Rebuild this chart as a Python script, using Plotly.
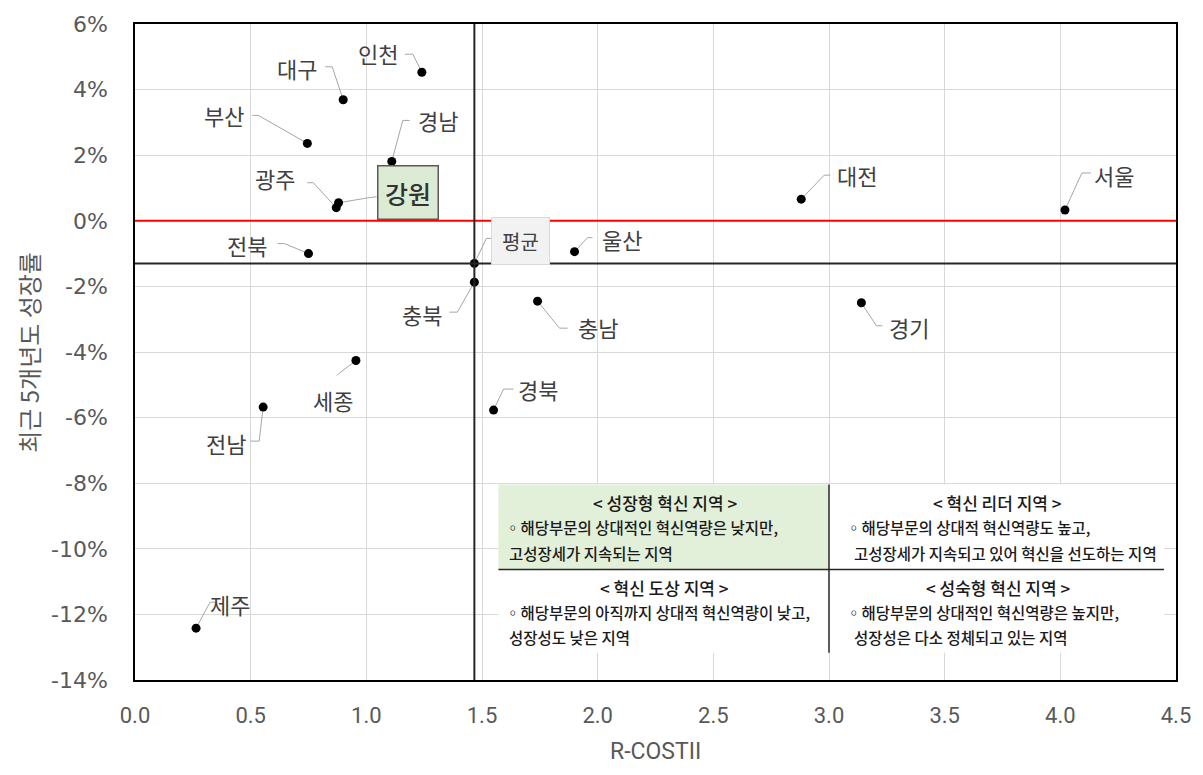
import plotly.graph_objects as go

# Regional innovation capacity (R-COSTII) vs. recent 5-year growth rate (%)
regions = ["서울", "대전", "경기", "울산", "충남", "충북", "경북", "인천", "대구",
           "경남", "부산", "광주", "강원", "전북", "세종", "전남", "제주"]
r_cost = [4.02, 2.88, 3.14, 1.90, 1.74, 1.467, 1.55, 1.24, 0.90,
          1.11, 0.745, 0.87, 0.88, 0.75, 0.955, 0.554, 0.264]
growth = [0.33, 0.66, -2.50, -0.94, -2.45, -1.87, -5.77, 4.53, 3.69,
          1.81, 2.36, 0.40, 0.55, -1.00, -4.26, -5.68, -12.42]

avg_label = "평균"
avg_x = 1.467
avg_y = -1.30

x_ticks = [0.0, 0.5, 1.0, 1.5, 2.0, 2.5, 3.0, 3.5, 4.0, 4.5]
y_ticks = [6, 4, 2, 0, -2, -4, -6, -8, -10, -12, -14]
y_tick_text = ["6%", "4%", "2%", "0%", "-2%", "-4%", "-6%", "-8%", "-10%", "-12%", "-14%"]

x_title = "R-COSTII"
y_title = "최근 5개년도 성장률"

quadrants = {
    "growth": ("< 성장형 혁신 지역 >",
               ["◦해당부문의 상대적인 혁신역량은 낮지만,", "고성장세가 지속되는 지역"]),
    "leader": ("< 혁신 리더 지역 >",
               ["◦해당부문의 상대적 혁신역량도 높고,", "고성장세가 지속되고 있어 혁신을 선도하는 지역"]),
    "catchup": ("< 혁신 도상 지역 >",
                ["◦해당부문의 아직까지 상대적 혁신역량이 낮고,", "성장성도 낮은 지역"]),
    "mature": ("< 성숙형 혁신 지역 >",
               ["◦해당부문의 상대적인 혁신역량은 높지만,", "성장성은 다소 정체되고 있는 지역"]),
}

# label placement: text offset and leader polyline (screen pixels, y down)
label_pos = {
    "서울": ((49, -35), [(26, -37), (17, -37)]),
    "대전": ((56, -24), [(29, -24), (23, -24)]),
    "경기": ((48, 24), [(21, 23), (15, 23)]),
    "울산": ((47, -13), [(18, -14), (13, -14)]),
    "충남": ((60, 26), [(30, 27), (22, 27)]),
    "충북": ((-52, 32), [(-25, 30), (-17, 30)]),
    "경북": ((44, -21), [(20, -21), (10, -21)]),
    "인천": ((-44, -19), [(-17, -18), (-9, -18)]),
    "대구": ((-46, -32), [(-18, -33), (-11, -33)]),
    "경남": ((46, -41), [(18, -41), (11, -41)]),
    "부산": ((-83, -28), [(-55, -28), (-49, -28)]),
    "광주": ((-61, -30), [(-29, -25), (-23, -25)]),
    "강원": ((69, -10), [(38, -6), (30, -5)]),
    "전북": ((-62, -9), [(-31, -10), (-24, -10)]),
    "세종": ((-23, 39), [(-19, 15), (-17, 13)]),
    "전남": ((-37, 36), [(-13, 34), (-4, 34)]),
    "제주": ((34, -24), [(21, -26), (14, -26)]),
}
avg_pos = ((46, -22), [(17, -25), (12, -25)])

KR = "Noto Sans CJK KR"
TEXT = "#404040"
AXIS_TEXT = "#595959"
LEADER = "#a6a6a6"

fig = go.Figure()

shapes = []


def leader(x, y, pts):
    path = "M {},{}".format(pts[0][0], -pts[0][1])
    for px, py in pts[1:]:
        path += " L {},{}".format(px, -py)
    path += " L 0,0"
    return dict(type="path", path=path, xsizemode="pixel", ysizemode="pixel",
                xanchor=x, yanchor=y, xref="x", yref="y",
                line=dict(color=LEADER, width=1), layer="between")


# reference lines: zero growth and the averages
shapes.append(dict(type="line", xref="paper", x0=0, x1=1, yref="y", y0=0, y1=0,
                   line=dict(color="#ff0000", width=2), layer="above"))
shapes.append(dict(type="line", xref="paper", x0=0, x1=1, yref="y", y0=avg_y, y1=avg_y,
                   line=dict(color="#262626", width=2), layer="above"))
shapes.append(dict(type="line", xref="x", x0=avg_x, x1=avg_x, yref="paper", y0=0, y1=1,
                   line=dict(color="#262626", width=2), layer="above"))

annotations = []
for name, x, y in zip(regions, r_cost, growth):
    (dx, dy), pts = label_pos[name]
    shapes.append(leader(x, y, pts))
    if name == "강원":
        annotations.append(dict(
            x=x, y=y, xref="x", yref="y", text=name, showarrow=False,
            xshift=dx, yshift=-dy, width=57, height=50,
            font=dict(family=KR, size=25, color="#333333", weight=500),
            bgcolor="#dcebd3", bordercolor="#595959", borderwidth=1.5,
        ))
    else:
        annotations.append(dict(
            x=x, y=y, xref="x", yref="y", text=name, showarrow=False,
            xshift=dx, yshift=-dy,
            font=dict(family=KR, size=22, color=TEXT),
        ))

(dx, dy), pts = avg_pos
shapes.append(leader(avg_x, avg_y, pts))
annotations.append(dict(
    x=avg_x, y=avg_y, xref="x", yref="y", text=avg_label, showarrow=False,
    xshift=dx, yshift=-dy, width=55, height=44,
    font=dict(family=KR, size=20, color=TEXT),
    bgcolor="#f2f2f2", bordercolor="#d9d9d9", borderwidth=1,
))

# quadrant legend table
tx0, tx1, txm = 1.571, 4.448, 3.0
ty0, ty1, tym = -8.04, -13.17, -10.63
shapes.append(dict(type="rect", xref="x", yref="y", x0=tx0, x1=tx1, y0=ty1, y1=ty0,
                   fillcolor="white", line=dict(width=0), layer="above"))
shapes.append(dict(type="rect", xref="x", yref="y", x0=tx0, x1=txm, y0=tym, y1=ty0,
                   fillcolor="#e2efd9", line=dict(width=0), layer="above"))
shapes.append(dict(type="line", xref="x", yref="y", x0=tx0, x1=tx1, y0=tym, y1=tym,
                   line=dict(color="#262626", width=1.5), layer="above"))
shapes.append(dict(type="line", xref="x", yref="y", x0=txm, x1=txm, y0=ty0, y1=ty1,
                   line=dict(color="#262626", width=1.5), layer="above"))

cells = [
    ("growth", 2.29, 1.592, 1.61, -8.58, -9.34, -10.12),
    ("leader", 3.73, 3.064, 3.098, -8.58, -9.34, -10.12),
    ("catchup", 2.29, 1.592, 1.61, -11.18, -11.93, -12.69),
    ("mature", 3.73, 3.064, 3.098, -11.18, -11.93, -12.69),
]
HFONT = dict(family=KR, size=17, color="#1a1a1a", weight=500)
BFONT = dict(family=KR, size=15.5, color="#1a1a1a", weight=500)
for key, hx, bx1, bx2, hy, by1, by2 in cells:
    head, body = quadrants[key]
    annotations.append(dict(x=hx, y=hy, xref="x", yref="y", text=head,
                            showarrow=False, font=HFONT))
    annotations.append(dict(x=bx1, y=by1, xref="x", yref="y", text=body[0],
                            showarrow=False, xanchor="left", font=BFONT))
    annotations.append(dict(x=bx2, y=by2, xref="x", yref="y", text=body[1],
                            showarrow=False, xanchor="left", font=BFONT))

# axis titles
annotations.append(dict(x=0.5, y=-0.109, xref="paper", yref="paper", text=x_title,
                        showarrow=False, yanchor="middle",
                        font=dict(family="Roboto", size=23, color=AXIS_TEXT)))
annotations.append(dict(x=-0.103, y=0.5, xref="paper", yref="paper", text=y_title,
                        showarrow=False, textangle=-90, xanchor="center",
                        font=dict(family=KR, size=24, color=AXIS_TEXT)))

fig.add_trace(go.Scatter(
    x=r_cost + [avg_x], y=growth + [avg_y], mode="markers",
    marker=dict(size=9, color="black"),
    hoverinfo="skip", showlegend=False,
))

fig.update_layout(
    width=1203, height=775,
    margin=dict(l=135, r=26, t=18, b=95),
    paper_bgcolor="white", plot_bgcolor="white",
    shapes=shapes, annotations=annotations,
    xaxis=dict(
        range=[0, 4.5], tickvals=x_ticks, tickformat=".1f",
        showgrid=True, gridcolor="#d9d9d9", gridwidth=1, zeroline=False,
        showline=True, linecolor="black", linewidth=1.5, mirror=True,
        ticks="", ticklabelstandoff=15,
        tickfont=dict(family="Roboto", size=22, color=AXIS_TEXT),
    ),
    yaxis=dict(
        range=[-14, 6], tickvals=y_ticks, ticktext=y_tick_text,
        showgrid=True, gridcolor="#d9d9d9", gridwidth=1, zeroline=False,
        showline=True, linecolor="black", linewidth=1.5, mirror=True,
        ticks="", ticklabelstandoff=21,
        tickfont=dict(family="DejaVu Sans", size=22, color=AXIS_TEXT),
    ),
)

fig.write_html("out.html")
